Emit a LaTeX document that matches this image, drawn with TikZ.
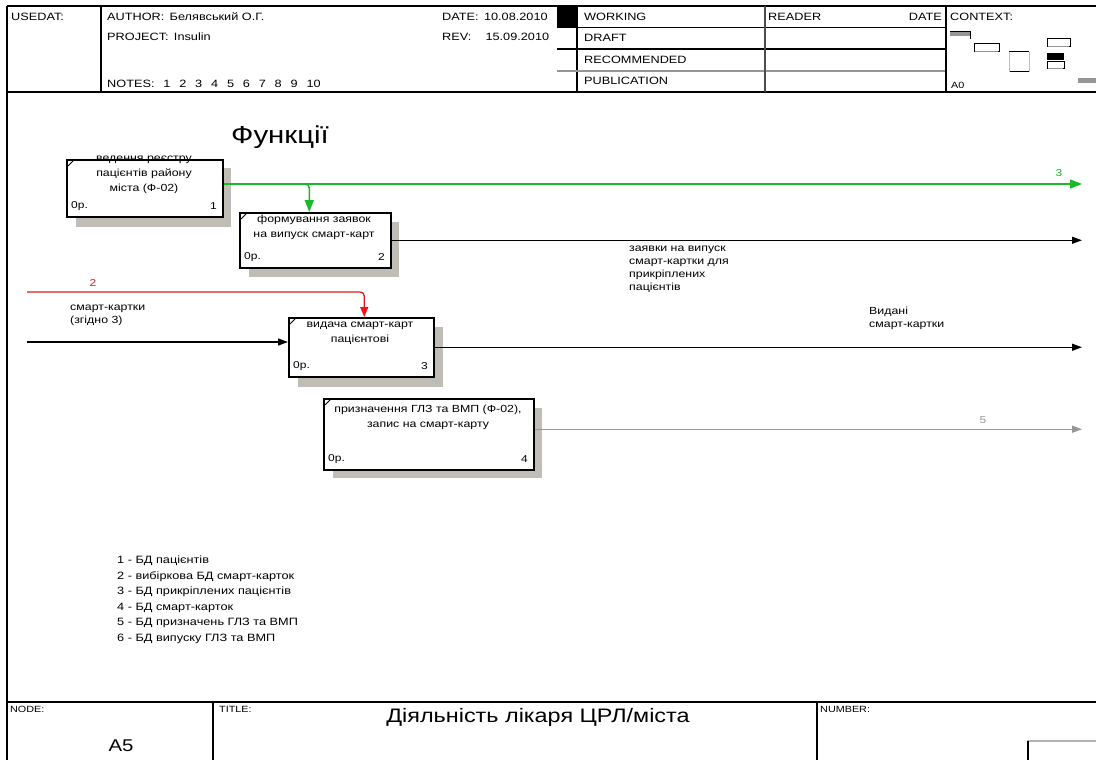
\documentclass[tikz,border=0pt]{standalone}
\usepackage{fontspec}
\setmainfont[FakeStretch=1.2]{Liberation Sans}
\usetikzlibrary{arrows.meta}
\definecolor{fgreen}{RGB}{25,185,40}
\definecolor{fred}{RGB}{230,25,25}
\definecolor{fgray}{RGB}{150,150,150}
\definecolor{shadowc}{RGB}{192,188,182}
\tikzset{
  hline/.style={line width=1.6pt},
  thinl/.style={line width=1pt},
  hdr/.style={font=\fontsize{10.6}{12}\selectfont, anchor=west, inner sep=0pt},
  smallhdr/.style={font=\fontsize{9}{10}\selectfont, anchor=west, inner sep=0pt},
  fbox/.style={draw, line width=1.5pt, fill=white, anchor=north west, inner sep=0pt},
  shadowbox/.style={fill=shadowc},
  btxt/.style={font=\fontsize{10.3}{15}\selectfont, align=center, inner sep=0pt},
  ctext/.style={font=\fontsize{10}{12}\selectfont, anchor=west, inner sep=0pt},
  lbl/.style={font=\fontsize{10.3}{13}\selectfont, align=left, anchor=north west, inner sep=0pt},
  legend/.style={font=\fontsize{10.6}{15.5}\selectfont, align=left, anchor=north west, inner sep=0pt},
  flow/.style={line width=1.3pt, -{Triangle[length=10pt,width=7pt]}},
  gflow/.style={line width=1.5pt, fgreen, -{Triangle[length=12pt,width=9pt]}},
  rflow/.style={line width=1.3pt, fred, -{Triangle[length=10pt,width=8pt]}},
  grflow/.style={line width=1.3pt, fgray, -{Triangle[length=10pt,width=7pt]}},
  cornermark/.style={line width=0.8pt}
}
\begin{document}
\begin{tikzpicture}[x=1pt,y=-1pt]
\useasboundingbox (0,0) rectangle (1096,760);
\fill[white] (0,0) rectangle (1096,760);

% ---------- header frame ----------
\draw[hline] (7,6) -- (1096,6);
\draw[hline] (7,6) -- (7,760);
\draw[hline] (7,92) -- (1096,92);
\draw[hline] (101,6) -- (101,92);
\fill (557,6) rectangle (577,28);
\draw[hline] (577,6) -- (577,92);
\draw[thinl] (577,28) -- (946,28);
\draw[hline] (557,49) -- (946,49);
\draw[line width=1.8pt, fgray] (557,71) -- (946,71);
\draw[hline, black!70] (765,6) -- (765,92);
\draw[hline] (946,6) -- (946,92);

\node[hdr] (usedat) at (11,17) {USEDAT:};
\node[hdr] (author) at (107,17) {AUTHOR: \,Белявський О.Г.};
\node[hdr] (project) at (107,37) {PROJECT: \,Insulin};
\node[hdr] (notes) at (107,84) {NOTES: \enspace1 \enspace2 \enspace3 \enspace4 \enspace5 \enspace6 \enspace7 \enspace8 \enspace9 \enspace10};
\node[hdr] (date) at (442,17) {DATE: \,10.08.2010};
\node[hdr] (rev) at (442,37) {REV: \quad 15.09.2010};
\node[hdr] (working) at (584,17) {WORKING};
\node[hdr] (draft) at (584,38) {DRAFT};
\node[hdr] (recom) at (584,60) {RECOMMENDED};
\node[hdr] (public) at (584,81) {PUBLICATION};
\node[hdr] (reader) at (768,17) {READER};
\node[hdr, anchor=east] (rdate) at (942,17) {DATE};
\node[hdr] (context) at (950,17) {CONTEXT:};
\node[smallhdr] (a0) at (951,85) {A0};

% context thumbnails
\fill[fgray] (950,32) rectangle (970,36);
\draw[line width=1pt] (950,32) -- (970,32) -- (970,39);
\draw[line width=1pt, fill=white] (974,44) rectangle (999,52);
\draw[fgray] (975,51) -- (998,51);
\draw[line width=1pt] (1009,52) -- (1029,52);
\draw[line width=1pt] (1009,72) -- (1029,72);
\draw[black!25] (1009,52) -- (1009,72);
\draw[black!25] (1029,52) -- (1029,72);
\draw[line width=1pt, fill=white] (1047,39) rectangle (1070,47);
\draw[fgray] (1048,46) -- (1069,46);
\fill (1047,53) rectangle (1064,60);
\draw[line width=1pt, fill=white] (1047,62) rectangle (1064,69);
\draw[fgray] (1048,68) -- (1063,68);
\fill[fgray] (1078,78) rectangle (1096,83);

% ---------- title ----------
\node[font=\fontsize{24.5}{28}\selectfont, anchor=west, inner sep=0pt] (functitle) at (231,137) {Функції};

% ---------- boxes ----------
\fill[shadowbox] (76,168) rectangle (231,227);
\node[fbox, minimum width=156pt, minimum height=57pt] (b1) at (66,159) {};
\fill[shadowbox] (249,222) rectangle (399,277);
\node[fbox, minimum width=151pt, minimum height=55pt] (b2) at (239,212) {};
\fill[shadowbox] (298,327) rectangle (443,387);
\node[fbox, minimum width=145pt, minimum height=59pt] (b3) at (288,317) {};
\fill[shadowbox] (333,408) rectangle (542,478);
\node[fbox, minimum width=210pt, minimum height=71pt] (b4) at (323,398) {};

\foreach \b in {b1,b2,b3,b4} {
  \draw[cornermark] ([shift={(2,7)}]\b.north west) -- ([shift={(7,2)}]\b.north west);
}

\node[btxt, anchor=north] (t1) at (144,156) {ведення реєстру\\пацієнтів району\\міста (Ф-02)};
\node[btxt, anchor=north] (t2) at (314,215) {формування заявок\\на випуск смарт-карт};
\node[btxt, anchor=north] (t3) at (360,322) {видача смарт-карт\\пацієнтові};
\node[btxt, anchor=north] (t4) at (428,405) {призначення ГЛЗ та ВМП (Ф-02),\\запис на смарт-карту};

\node[ctext] (c1) at (71,206) {0р.};
\node[ctext, anchor=east] (n1) at (217,206) {1};
\node[ctext] (c2) at (244,257) {0р.};
\node[ctext, anchor=east] (n2) at (385,257) {2};
\node[ctext] (c3) at (293,366) {0р.};
\node[ctext, anchor=east] (n3) at (428,366) {3};
\node[ctext] (c4) at (328,459) {0р.};
\node[ctext, anchor=east] (n4) at (528,459) {4};

% ---------- connectors ----------
\coordinate (out3) at (1082,184);
\coordinate (in2) at (27,292);
\coordinate (in1) at (27,342);
\coordinate (gj) at (300,184);

\draw[gflow] (b1.east |- out3) -- (out3);
\draw[gflow, rounded corners=4pt] (gj) -| ([xshift=-6pt]b2.north);
\draw[flow] (b2.east) -- (b2.east -| out3);
\draw[rflow, rounded corners=4pt] (in2) -| ([xshift=3pt]b3.north);
\draw[flow] (in1) -- (in1 -| b3.west);
\draw[flow] (b3.east) -- (b3.east -| out3);
\draw[grflow] ([yshift=5pt]b4.east) -- ([yshift=5pt]b4.east -| out3);

\node[font=\fontsize{10}{12}\selectfont, text=fgreen, inner sep=0pt] (l3) at (1059,173) {3};
\node[font=\fontsize{10}{12}\selectfont, text=fred, inner sep=0pt] (l2) at (93,283) {2};
\node[font=\fontsize{10}{12}\selectfont, text=fgray, inner sep=0pt] (l5) at (983,420) {5};

\node[lbl] (lab1) at (629,246) {заявки на випуск\\смарт-картки для\\прикріплених\\пацієнтів};
\node[lbl] (lab2) at (70,305) {смарт-картки\\(згідно 3)};
\node[lbl] (lab3) at (869,307) {Видані\\смарт-картки};

% ---------- legend ----------
\node[legend] (leg) at (117,556) {1 - БД пацієнтів\\2 - вибіркова БД смарт-карток\\3 - БД прикріплених пацієнтів\\4 - БД смарт-карток\\5 - БД призначень ГЛЗ та ВМП\\6 - БД випуску ГЛЗ та ВМП};

% ---------- footer ----------
\draw[hline] (7,702) -- (1096,702);
\draw[hline] (213,702) -- (213,760);
\draw[hline] (817,702) -- (817,760);
\draw[line width=1.6pt, black!30] (1027,741) -- (1096,741);
\draw[line width=1.6pt] (1028,741) -- (1028,760);

\node[smallhdr] (nodel) at (10,709) {NODE:};
\node[font=\fontsize{17}{20}\selectfont, inner sep=0pt] (a5) at (121,746) {A5};
\node[smallhdr] (titlel) at (219,709) {TITLE:};
\node[font=\fontsize{19.5}{22}\selectfont, inner sep=0pt] (title) at (538,717) {Діяльність лікаря ЦРЛ/міста};
\node[smallhdr] (numberl) at (820,709) {NUMBER:};
\end{tikzpicture}
\end{document}
